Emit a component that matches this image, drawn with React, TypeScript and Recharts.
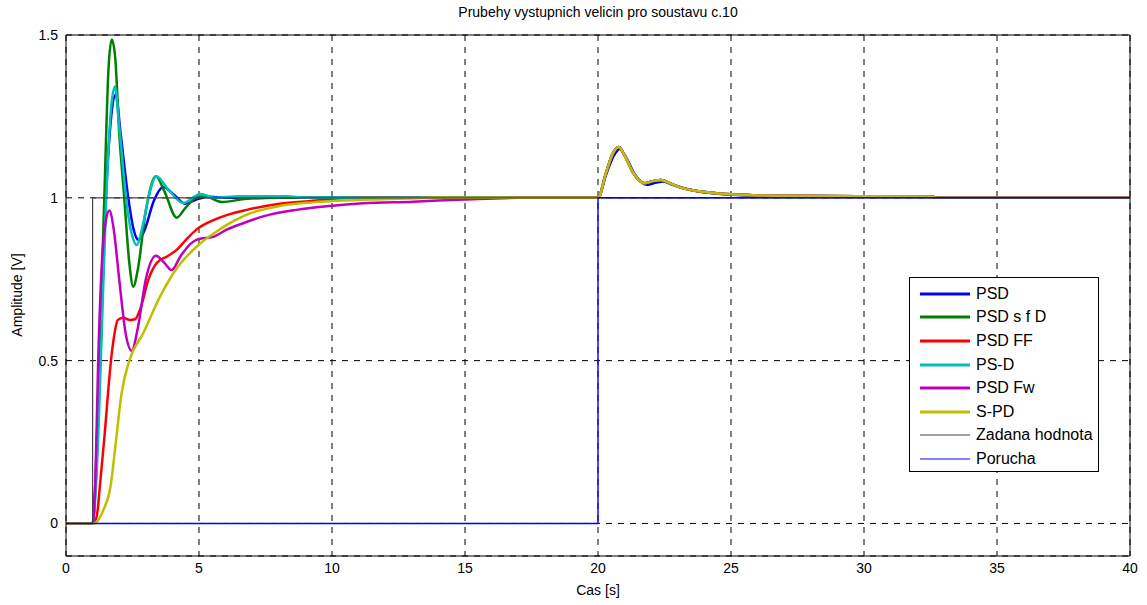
import { LineChart, Line, XAxis, YAxis, CartesianGrid } from "recharts";

type Pt = { t: number; v: number };
const pts = (a: number[][]): Pt[] => a.map(([t, v]) => ({ t, v }));

// tick labels
const xTicks = [0, 5, 10, 15, 20, 25, 30, 35, 40];
const yTicks = [0, 0.5, 1, 1.5];

// odezva na poruchu v t = 20 s (skoro stejna u vsech regulatoru)
const poruchaOdezva = [
  [20, 1], [20.3, 1.076], [20.55, 1.135], [20.78, 1.156], [21.0, 1.13], [21.3, 1.08],
  [21.75, 1.045], [22.1, 1.052], [22.37, 1.055], [22.7, 1.045], [23.06, 1.033],
  [23.8, 1.02], [24.56, 1.013], [25.8, 1.008], [27.07, 1.006], [32.57, 1.004],
  [32.7, 1.0], [40, 1.0],
];
const poruchaOdezvaPSD = [
  [20, 1], [20.3, 1.07], [20.6, 1.13], [20.82, 1.15], [21.05, 1.125], [21.4, 1.07],
  [21.85, 1.04], [22.2, 1.047], [22.45, 1.05], [22.8, 1.04], [23.2, 1.03],
  [23.9, 1.018], [24.6, 1.012], [25.8, 1.007], [27.07, 1.005], [32.57, 1.004],
  [32.7, 1.0], [40, 1.0],
];

const psd = pts([
  [0, 0], [1, 0], [1.1, 0.1], [1.3, 0.55], [1.5, 1.0], [1.7, 1.25], [1.87, 1.317],
  [2.05, 1.2], [2.34, 1.0], [2.55, 0.9], [2.72, 0.871], [2.95, 0.9], [3.3, 0.99],
  [3.66, 1.033], [4.05, 1.01], [4.47, 0.982], [4.9, 0.995], [5.4, 1.003], [6, 1.0],
  ...poruchaOdezvaPSD,
]);

const psdSfD = pts([
  [0, 0], [1, 0], [1.1, 0.12], [1.25, 0.5], [1.44, 1.0], [1.6, 1.4], [1.72, 1.486],
  [1.85, 1.43], [2.0, 1.2], [2.19, 1.0], [2.38, 0.8], [2.53, 0.727], [2.7, 0.78],
  [3.0, 0.96], [3.38, 1.066], [3.7, 1.02], [4.16, 0.939], [4.5, 0.97], [4.93, 1.002],
  [5.22, 1.005], [5.85, 0.987], [6.8, 0.997], [8, 1.0],
  ...poruchaOdezva,
]);

const psdFF = pts([
  [0, 0], [1, 0], [1.15, 0.02], [1.28, 0.12], [1.46, 0.28], [1.6, 0.42], [1.69, 0.5],
  [1.78, 0.56], [1.95, 0.625], [2.15, 0.632], [2.4, 0.625], [2.59, 0.627], [2.8, 0.66],
  [3.1, 0.75], [3.41, 0.8], [3.8, 0.82], [4.16, 0.84], [4.5, 0.87], [4.91, 0.903],
  [5.5, 0.93], [6.04, 0.947], [6.79, 0.963], [8.04, 0.982], [9.29, 0.991],
  [10.1, 0.997], [11, 1.0],
  ...poruchaOdezva,
]);

const psD = pts([
  [0, 0], [1, 0], [1.15, 0.15], [1.35, 0.6], [1.5, 0.97], [1.7, 1.28], [1.84, 1.342],
  [2.0, 1.22], [2.3, 0.97], [2.5, 0.88], [2.65, 0.855], [2.9, 0.92], [3.1, 1.0],
  [3.4, 1.066], [3.8, 1.03], [4.41, 0.984], [5.05, 1.012], [5.6, 1.0], [6.5, 1.005],
  [8.3, 1.005], [9, 1.0],
  ...poruchaOdezva,
]);

const psdFw = pts([
  [0, 0], [1, 0], [1.1, 0.12], [1.21, 0.5], [1.35, 0.8], [1.5, 0.93], [1.63, 0.961],
  [1.8, 0.9], [2.0, 0.75], [2.25, 0.58], [2.47, 0.53], [2.7, 0.6], [3.0, 0.75],
  [3.38, 0.822], [3.7, 0.8], [3.97, 0.778], [4.3, 0.82], [4.7, 0.86], [4.97, 0.873],
  [5.53, 0.88], [6.04, 0.902], [6.66, 0.922], [7.41, 0.943], [8.66, 0.963],
  [9.92, 0.975], [11.17, 0.983], [13.05, 0.988], [15, 0.995], [17, 1.0],
  ...poruchaOdezva,
]);

const sPD = pts([
  [0, 0], [1.05, 0], [1.4, 0.04], [1.69, 0.122], [1.84, 0.225], [2.09, 0.4],
  [2.38, 0.5], [2.9, 0.584], [3.53, 0.696], [4.16, 0.783], [4.91, 0.85],
  [5.78, 0.903], [6.79, 0.948], [8.04, 0.975], [9.29, 0.986], [10.54, 0.992],
  [12.9, 0.998], [14, 1.0],
  ...poruchaOdezva,
]);

const zadanaHodnota = pts([[0, 0], [1, 0], [1, 1], [40, 1]]);
const porucha = pts([[0, 0], [20, 0], [20, 1], [40, 1]]);

const series = [
  { name: "PSD", data: psd, color: "#0000ff", width: 2.5 },
  { name: "PSD s f D", data: psdSfD, color: "#008000", width: 2.5 },
  { name: "PSD FF", data: psdFF, color: "#ff0000", width: 2.5 },
  { name: "PS-D", data: psD, color: "#00bfbf", width: 2.5 },
  { name: "PSD Fw", data: psdFw, color: "#bf00bf", width: 2.5 },
  { name: "S-PD", data: sPD, color: "#bfbf00", width: 2.5 },
  { name: "Zadana hodnota", data: zadanaHodnota, color: "#444444", width: 1.2 },
  { name: "Porucha", data: porucha, color: "#0000ff", width: 1.4 },
];

const font = "'Liberation Sans', Arial, sans-serif";

export default function App() {
  return (
    <div style={{ position: "relative", width: 1147, height: 605, fontFamily: font, background: "#fff" }}>
      <style>{"body{margin:0}"}</style>
      <div style={{ position: "absolute", left: 66, width: 1064, top: 4, textAlign: "center", fontSize: 14, color: "#000" }}>
        Prubehy vystupnich velicin pro soustavu c.10
      </div>
      <div style={{ position: "absolute", left: 66, width: 1064, top: 582, textAlign: "center", fontSize: 14, color: "#000" }}>
        Cas [s]
      </div>
      <div
        style={{
          position: "absolute", left: 17, top: 295, fontSize: 14, color: "#000", whiteSpace: "nowrap",
          transform: "translate(-50%, -50%) rotate(-90deg)",
        }}
      >
        Amplitude [V]
      </div>

      <LineChart width={1147} height={605} margin={{ top: 0, right: 0, bottom: 0, left: 0 }}>
        <CartesianGrid stroke="#000" strokeDasharray="6 6" horizontal vertical />
        <XAxis
          dataKey="t" type="number" domain={[0, 40]} ticks={xTicks} allowDataOverflow
          height={49} tickSize={0} tickMargin={7} axisLine={{ stroke: "#000" }}
          tick={{ fill: "#000", fontSize: 14, fontFamily: font }}
        />
        <XAxis
          xAxisId="top" orientation="top" dataKey="t" type="number" domain={[0, 40]} ticks={xTicks}
          height={35} tick={false} tickLine={false} axisLine={{ stroke: "#000" }}
        />
        <YAxis
          type="number" domain={[-0.1, 1.5]} ticks={yTicks} allowDataOverflow
          width={66} tickSize={0} tickMargin={8} axisLine={{ stroke: "#000" }}
          tick={{ fill: "#000", fontSize: 14, fontFamily: font }}
        />
        <YAxis
          yAxisId="right" orientation="right" type="number" domain={[-0.1, 1.5]} ticks={yTicks}
          width={17} tick={false} tickLine={false} axisLine={{ stroke: "#000" }}
        />
        {series.map((s) => (
          <Line
            key={s.name}
            data={s.data}
            dataKey="v"
            name={s.name}
            type="monotone"
            stroke={s.color}
            strokeWidth={s.width}
            dot={false}
            isAnimationActive={false}
          />
        ))}
      </LineChart>

      <div
        style={{
          position: "absolute", left: 909, top: 277, width: 190, height: 195, boxSizing: "border-box",
          border: "1px solid #000", background: "#fff", padding: "4px 0 0 10px",
        }}
      >
        {series.map((s) => (
          <div key={s.name} style={{ display: "flex", alignItems: "center", height: 23.6, fontSize: 16, color: "#000" }}>
            <svg width={56} height={4}>
              <line x1={0} x2={50} y1={2} y2={2} stroke={s.color} strokeWidth={s.width > 2 ? 3 : 1} />
            </svg>
            <span>{s.name}</span>
          </div>
        ))}
      </div>
    </div>
  );
}
